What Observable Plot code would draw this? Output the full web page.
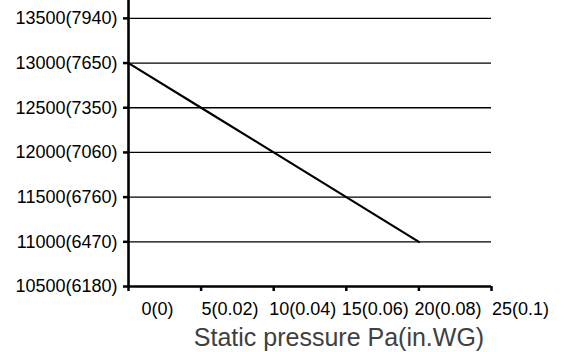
<!DOCTYPE html>
<html>
<head>
<meta charset="utf-8">
<script src="https://cdn.jsdelivr.net/npm/d3@7"></script>
<script src="https://cdn.jsdelivr.net/npm/@observablehq/plot@0.6"></script>
<style>
  html, body { margin: 0; padding: 0; background: white; }
</style>
</head>
<body>
<div id="chart"></div>
<script>
const pressure = [0, 5, 10, 15, 20];
const airflow = [13000, 12500, 12000, 11500, 11000];
const xTicks = [0, 5, 10, 15, 20, 25];
const xTickLabels = ["0(0)", "5(0.02)", "10(0.04)", "15(0.06)", "20(0.08)", "25(0.1)"];
const yTicks = [10500, 11000, 11500, 12000, 12500, 13000, 13500];
const yTickLabels = ["10500(6180)", "11000(6470)", "11500(6760)", "12000(7060)", "12500(7350)", "13000(7650)", "13500(7940)"];
const xLabel = "Static pressure Pa(in.WG)";

const data = pressure.map((p, i) => ({p, q: airflow[i]}));

const chart = Plot.plot({
  width: 573,
  height: 352,
  marginLeft: 128,
  marginRight: 82,
  marginTop: 0,
  marginBottom: 66,
  x: {domain: [0, 25]},
  y: {domain: [10500, 13700]},
  style: {fontFamily: "'Liberation Sans', Arial, sans-serif", background: "white", color: "black"},
  marks: [
    Plot.gridY(yTicks.filter(v => v > 10500), {stroke: "black", strokeOpacity: 1, strokeWidth: 1.3}),
    Plot.line(data, {x: "p", y: "q", stroke: "black", strokeWidth: 2.2}),
    Plot.ruleX([0], {stroke: "black", strokeWidth: 2.6}),
    Plot.ruleY([10500], {stroke: "black", strokeWidth: 2.6}),
    Plot.axisY({ticks: yTicks, tickFormat: d => yTickLabels[yTicks.indexOf(d)], tickSize: 5, tickPadding: 6, fontSize: 18, label: null, stroke: "black", strokeWidth: 2.5}),
    Plot.axisX({ticks: xTicks, tickFormat: () => "", tickSize: 5, label: null, stroke: "black", strokeWidth: 2.5}),
    Plot.axisX({ticks: xTicks, tickFormat: d => xTickLabels[xTicks.indexOf(d)], tickSize: 0, tickPadding: 16, fontSize: 18, dx: 29, label: null}),
    Plot.text([xLabel], {frameAnchor: "bottom", lineAnchor: "top", dy: 42, dx: 29, fontSize: 25, fill: "#404040"})
  ]
});
document.getElementById("chart").appendChild(chart);
</script>
</body>
</html>
